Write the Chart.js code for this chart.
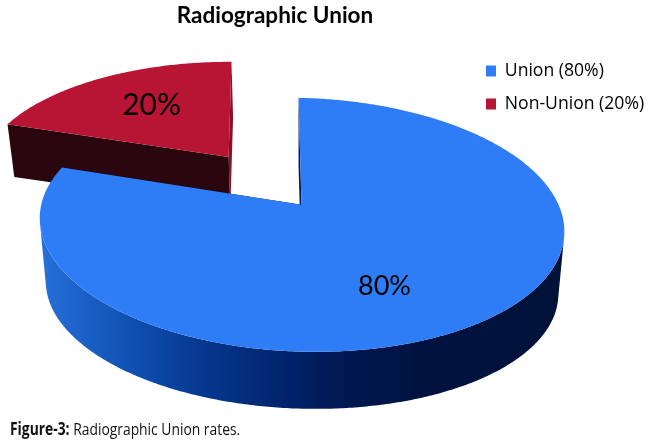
<!DOCTYPE html>
<html><head><meta charset="utf-8">
<style>
html,body{margin:0;padding:0;background:#fff;overflow:hidden}
#wrap{position:relative;width:650px;height:443px}
#cap{position:absolute;left:10px;top:417px;font:17px "Open Sans",sans-serif;color:#111;white-space:nowrap;transform-origin:0 50%;transform:scaleX(.815)}
#cap b{font-weight:700}
</style>
<script src="https://cdn.jsdelivr.net/npm/chart.js@4/dist/chart.umd.min.js"></script>
</head><body>
<div id="wrap"><canvas id="c" width="650" height="443"></canvas>
<div id="cap"><b>Figure-3:</b> Radiographic Union rates.</div></div>
<script>
const categories = ['Union (80%)', 'Non-Union (20%)'];
const values = [80, 20];
const valueLabels = ['80%', '20%'];
const topColors = ['#2e7df6', '#b81434'];
const firstWallColors = ['#001a5c', '#2a060e'];
const lastWallColors = ['#001a5c', '#8a1028'];
const explodeFractions = [0, 0.5];
const depths = [63, 48];
const slantAdjust = [0, -0.0175];
const endAdjust = [-0.034, 0];
const shearYs = [0.019, 0.0095];
const labelOffsets = [[83, 81], [-77, -52]];
const labelSizes = [27, 30];
const FONT = 'Lato, "Open Sans", sans-serif';

// 3D view: perspective projection of the pie's disc
const view = {a: 259/150, b: 123.8/150, k: 0.1575, shearX: 0.028, sx: 0.977, sy: 0.953, yMid: 20};

function project(el, u, v, shearY) {
  const R = el.outerRadius, w = 1 - view.k * v;
  const x0 = view.a * R * u / w, y0 = view.b * R * v / w;
  return [el.x + x0 + view.shearX * y0, el.y + y0 + shearY * x0];
}
function lower(el, p, depth) {
  return [el.x + (p[0] - el.x) * view.sx,
          el.y + view.yMid + (p[1] - el.y - view.yMid) * view.sy + depth];
}
function addQuad(ctx, a, b, c, d) {
  ctx.moveTo(a[0], a[1]); ctx.lineTo(b[0], b[1]); ctx.lineTo(c[0], c[1]); ctx.lineTo(d[0], d[1]); ctx.closePath();
}
function area(a, b, c, d) {
  const pts = [a, b, c, d]; let s = 0;
  for (let i = 0; i < 4; i++) { const p = pts[i], q = pts[(i + 1) % 4]; s += p[0] * q[1] - q[0] * p[1]; }
  return s;
}
const pie3d = {
  id: 'pie3d',
  afterLayout(chart) {
    const t = chart.titleBlock; t.left = 0; t.right = 550;
    const l = chart.legend; const p = l.options.labels.padding;
    l.left = 486 - p; l.top = 62.2 - p; l.right = 650; l.bottom = 200;
    l.width = l.right - l.left; l.height = l.bottom - l.top;
  },
  beforeDatasetsDraw(chart) {
    const ctx = chart.ctx, meta = chart.getDatasetMeta(0);
    const sideGrad = ctx.createLinearGradient(40, 0, 560, 0);
    sideGrad.addColorStop(0, '#2770da');
    sideGrad.addColorStop(0.17, '#1051b3');
    sideGrad.addColorStop(0.31, '#06388f');
    sideGrad.addColorStop(0.48, '#00226a');
    sideGrad.addColorStop(0.55, '#001a58');
    sideGrad.addColorStop(0.72, '#001340');
    sideGrad.addColorStop(1, '#001238');
    [1, 0].forEach(i => {
      const el = meta.data[i];
      const s = el.startAngle + slantAdjust[i], e = el.endAngle + slantAdjust[i] + endAdjust[i];
      const mid = (el.startAngle + el.endAngle) / 2, ex = explodeFractions[i];
      const cu = ex * Math.cos(mid), cv = ex * Math.sin(mid);
      const apex = project(el, cu, cv, shearYs[i]), d = depths[i];
      const rim = [];
      const n = Math.ceil((e - s) / 0.01);
      for (let j = 0; j <= n; j++) {
        const t = s + (e - s) * j / n;
        rim.push(project(el, cu + Math.cos(t), cv + Math.sin(t), shearYs[i]));
      }
      const first = rim[0], last = rim[n];
      // side walls along the radii
      ctx.beginPath();
      addQuad(ctx, apex, last, lower(el, last, d), lower(el, apex, d));
      ctx.fillStyle = lastWallColors[i]; ctx.fill();
      ctx.beginPath();
      addQuad(ctx, apex, first, lower(el, first, d), lower(el, apex, d));
      ctx.fillStyle = firstWallColors[i]; ctx.fill();
      // outer rim: only the part that faces the viewer
      ctx.beginPath();
      for (let j = 0; j < n; j++) {
        const a = rim[j], b = rim[j + 1], c = lower(el, b, d), f = lower(el, a, d);
        if (area(a, b, c, f) < 0) addQuad(ctx, a, b, c, f);
      }
      ctx.fillStyle = i === 0 ? sideGrad : firstWallColors[i]; ctx.fill();
      // top face
      ctx.beginPath(); ctx.moveTo(apex[0], apex[1]);
      rim.forEach(p => ctx.lineTo(p[0], p[1]));
      ctx.closePath(); ctx.fillStyle = topColors[i]; ctx.fill();
      ctx.fillStyle = '#000';
      ctx.font = labelSizes[i] + 'px ' + FONT;
      ctx.textAlign = 'center'; ctx.textBaseline = 'middle';
      ctx.fillText(valueLabels[i], apex[0] + labelOffsets[i][0], apex[1] + labelOffsets[i][1]);
    });
    return false;
  }
};
new Chart(document.getElementById('c'), {
  type: 'pie',
  data: {labels: categories, datasets: [{data: values, backgroundColor: topColors, borderWidth: 0, radius: 150}]},
  plugins: [pie3d],
  options: {
    responsive: false, animation: false,
    layout: {padding: {top: 0, left: 0, right: 47, bottom: 62.4}},
    plugins: {
      tooltip: {enabled: false},
      title: {display: true, text: 'Radiographic Union', color: '#000',
        font: {family: FONT, size: 22.5, weight: '700', lineHeight: 1.2}, padding: {top: 2, bottom: 0}},
      legend: {position: 'chartArea', align: 'start',
        labels: {boxWidth: 10, boxHeight: 11, padding: 15.4, color: '#000', font: {family: '"Open Sans", sans-serif', size: 17.6, lineHeight: 1.2}}}
    }
  }
});
</script></body></html>
